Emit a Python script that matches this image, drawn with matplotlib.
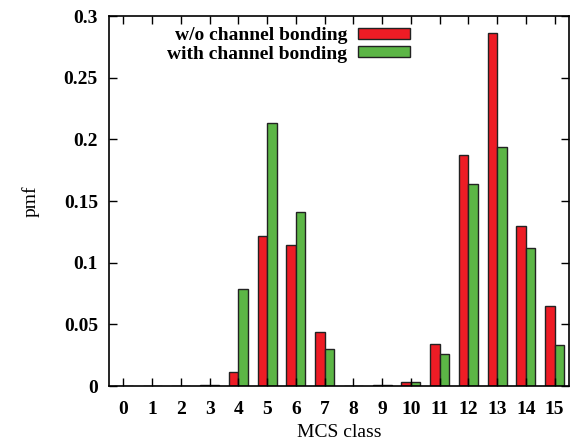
import numpy as np
import matplotlib
matplotlib.use("Agg")
import matplotlib.pyplot as plt

# ----- Данные ----- #
mcs = np.arange(16)
wo_bonding = [0.0, 0.0, 0.0003, 0.0012, 0.011, 0.122, 0.114, 0.044,
              0.0, 0.0005, 0.003, 0.034, 0.187, 0.286, 0.130, 0.065]
with_bonding = [0.0, 0.0, 0.0002, 0.0012, 0.079, 0.213, 0.141, 0.030,
                0.0, 0.001, 0.003, 0.026, 0.164, 0.194, 0.112, 0.033]
labels = ["w/o channel bonding", "with channel bonding"]

plt.rcParams["font.family"] = ["Liberation Serif", "DejaVu Serif"]
plt.rcParams["font.weight"] = "bold"
plt.rcParams["font.size"] = 14

fig = plt.figure(figsize=(5.72, 4.41), dpi=100)
ax = fig.add_axes([0.1906, 0.1247, 0.8042, 0.839])

w = 0.33
ax.bar(mcs - w / 2, wo_bonding, w, color="#ee1c25", edgecolor="#222222",
       linewidth=1, label=labels[0])
ax.bar(mcs + w / 2, with_bonding, w, color="#5cb646", edgecolor="#222222",
       linewidth=1, label=labels[1])

ax.set_xlim(-0.5, 15.5)
ax.set_ylim(0, 0.3)
ax.set_xticks(mcs)
ax.set_yticks(np.arange(0, 0.301, 0.05))
ax.set_yticklabels(["0", "0.05", "0.1", "0.15", "0.2", "0.25", "0.3"])
ax.tick_params(direction="in", top=True, right=True, length=6, width=1,
               labelsize=14, pad=8)
ax.tick_params(axis="x", pad=11)
for s in ax.spines.values():
    s.set_linewidth(1.2)

ax.set_xlabel("MCS class", fontsize=14, labelpad=4)
ax.set_ylabel("pmf", fontsize=14, labelpad=17)

ax.legend(loc="upper right", bbox_to_anchor=(0.654, 0.97), frameon=False,
          markerfirst=False, handlelength=2.67, handleheight=0.5,
          handletextpad=0.55, labelspacing=0.08, borderpad=0,
          borderaxespad=0, fontsize=14)

fig.savefig("out.png", dpi=100)
